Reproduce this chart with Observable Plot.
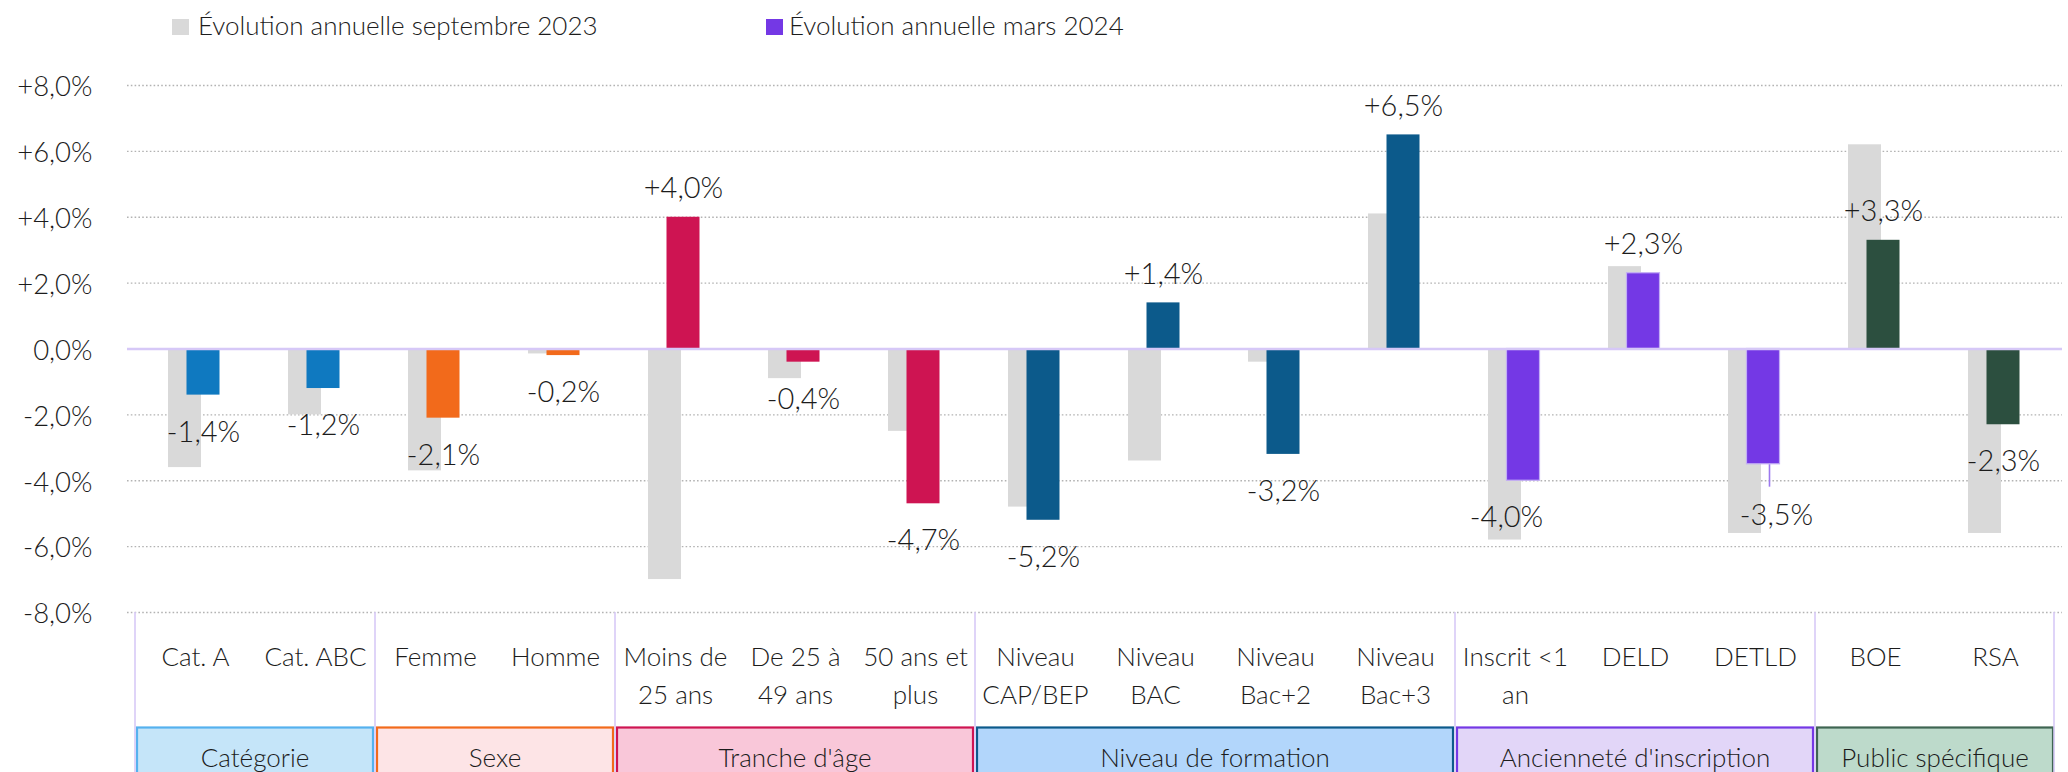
<!DOCTYPE html>
<html>
<head>
<meta charset="utf-8">
<script src="https://cdn.jsdelivr.net/npm/d3@7"></script>
<script src="https://cdn.jsdelivr.net/npm/@observablehq/plot@0.6"></script>
<style>
  html, body { margin: 0; padding: 0; background: #fff; }
  body { font-family: Lato, "Open Sans", sans-serif; font-weight: 300; color: #1c1c1c; width: 2068px; overflow: hidden; }
  #legend { position: relative; height: 60px; width: 2068px; }
  #legend .sw { position: absolute; top: 19px; width: 17px; height: 16px; }
  #legend .lt { position: absolute; top: 10px; line-height: 30px; font-size: 26px; white-space: nowrap; }
  #chart svg { display: block; }
</style>
</head>
<body>
<div id="legend"></div>
<div id="chart"></div>
<script>
// ---------- data ----------
const categories = ["Cat. A", "Cat. ABC", "Femme", "Homme", "Moins de 25 ans", "De 25 à 49 ans", "50 ans et plus",
  "Niveau CAP/BEP", "Niveau BAC", "Niveau Bac+2", "Niveau Bac+3", "Inscrit <1 an", "DELD", "DETLD", "BOE", "RSA"];
const categoryLabels = ["Cat. A", "Cat. ABC", "Femme", "Homme", "Moins de\n25 ans", "De 25 à\n49 ans", "50 ans et\nplus",
  "Niveau\nCAP/BEP", "Niveau\nBAC", "Niveau\nBac+2", "Niveau\nBac+3", "Inscrit <1\nan", "DELD", "DETLD", "BOE", "RSA"];
const groupNames = ["Catégorie", "Sexe", "Tranche d'âge", "Niveau de formation", "Ancienneté d'inscription", "Public spécifique"];
const groupOfCategory = ["Catégorie", "Catégorie", "Sexe", "Sexe", "Tranche d'âge", "Tranche d'âge", "Tranche d'âge",
  "Niveau de formation", "Niveau de formation", "Niveau de formation", "Niveau de formation",
  "Ancienneté d'inscription", "Ancienneté d'inscription", "Ancienneté d'inscription",
  "Public spécifique", "Public spécifique"];
const seriesNames = ["Évolution annuelle septembre 2023", "Évolution annuelle mars 2024"];
const sept2023 = [-3.6, -2.0, -3.7, -0.15, -7.0, -0.9, -2.5, -4.8, -3.4, -0.4, 4.1, -5.8, 2.5, -5.6, 6.2, -5.6];
const mars2024 = [-1.4, -1.2, -2.1, -0.2, 4.0, -0.4, -4.7, -5.2, 1.4, -3.2, 6.5, -4.0, 2.3, -3.5, 3.3, -2.3];
const yTicks = [-8, -6, -4, -2, 0, 2, 4, 6, 8];

// ---------- styles ----------
const barColors = ["#0f79c0", "#f26a1b", "#ce1452", "#0c5a8b", "#7438e5", "#2c4f3f"];
const boxFills = ["#c5e5f9", "#fde4e6", "#f9c7d9", "#b2d6fb", "#e2d6f8", "#bddacb"];
const boxStrokes = ["#55b1ee", "#f26a1b", "#ce1452", "#0c5a8b", "#7438e5", "#3f6552"];
const greySeries = "#d9d9d9";
const textColor = "#1c1c1c";
const FONT = "Lato, 'Open Sans', sans-serif";

// ---------- legend ----------
const legend = document.getElementById("legend");
const legendItems = [
  {name: seriesNames[0], color: greySeries, sw: 172, tx: 198},
  {name: seriesNames[1], color: barColors[4], sw: 766, tx: 789}
];
for (const it of legendItems) {
  const s = document.createElement("span");
  s.className = "sw"; s.style.left = it.sw + "px"; s.style.background = it.color;
  const t = document.createElement("span");
  t.className = "lt"; t.style.left = it.tx + "px"; t.textContent = it.name;
  legend.append(s, t);
}

// ---------- table ----------
const data = categories.map((c, i) => ({
  cat: c, label: categoryLabels[i], group: groupOfCategory[i], sept: sept2023[i], mars: mars2024[i]
}));
const fmt = v => (v > 0 ? "+" : v < 0 ? "-" : "") + Math.abs(v).toFixed(1).replace(".", ",") + "%";
const special = new Set(["Inscrit <1 an", "DETLD"]);

// group frame: separators, boxes and group labels, positioned with the plot's scales
function groupFrame(index, scales, values, dimensions) {
  const x = scales.x, y = scales.y;
  const bw = x.bandwidth ? x.bandwidth() : 0;
  const yBase = y(-8);
  const H = dimensions.height;
  const g = d3.create("svg:g");
  const seps = [];
  groupNames.forEach((name, gi) => {
    const members = categories.filter((c, i) => groupOfCategory[i] === name);
    const x0 = x(members[0]);
    const x1 = x(members[members.length - 1]) + bw;
    seps.push(x0);
    if (gi === groupNames.length - 1) seps.push(x1 - 1);
    g.append("rect")
      .attr("x", x0 + 2).attr("y", yBase + 115.5)
      .attr("width", x1 - x0 - 4).attr("height", 60)
      .attr("fill", boxFills[gi]).attr("stroke", boxStrokes[gi]).attr("stroke-width", 2.2);
    g.append("text")
      .attr("x", (x0 + x1) / 2).attr("y", yBase + 154.5)
      .attr("text-anchor", "middle").attr("fill", textColor)
      .attr("font-size", 26).attr("font-family", FONT).attr("font-weight", 300)
      .text(name);
  });
  for (const sx of seps) {
    g.append("line").attr("x1", sx).attr("x2", sx).attr("y1", yBase).attr("y2", H)
      .attr("stroke", "#d7caf7").attr("stroke-width", 1.6);
  }
  return g.node();
}

const plot = Plot.plot({
  width: 2068,
  height: 712,
  marginTop: 25,
  marginBottom: 160,
  marginLeft: 127,
  marginRight: 6,
  style: {fontFamily: FONT, fontSize: "26px", fontWeight: 300, color: textColor, background: "white", overflow: "hidden"},
  x: {domain: categories, padding: 0, axis: null},
  y: {domain: [-8, 8], axis: null},
  color: {domain: groupNames, range: barColors},
  marks: [
    Plot.ruleY(yTicks.filter(d => d !== 0), {stroke: "#b3b3b3", strokeWidth: 1.4, strokeDasharray: "1.6,2.2"}),
    Plot.axisY(yTicks, {tickSize: 0, tickPadding: 35, tickFormat: d => d === 0 ? "0,0%" : fmt(d), fontSize: 27.5, fill: textColor, dy: 2}),
    Plot.barY(data, {x: "cat", y: "sept", fill: greySeries, insetLeft: 33, insetRight: 54}),
    Plot.barY(data, {x: "cat", y: "mars", fill: "group", insetLeft: 51.5, insetRight: 35.5}),
    Plot.barY(data.filter(d => d.group === "Ancienneté d'inscription"), {x: "cat", y: "mars", fill: "none", stroke: "#c3aef5", strokeWidth: 1.2, insetLeft: 51.5, insetRight: 35.5}),
    Plot.ruleY([0], {stroke: "#d6c8f7", strokeWidth: 2.6}),
    // value labels (mars 2024)
    Plot.text(data.filter(d => d.mars > 0), {x: "cat", y: "mars", text: d => fmt(d.mars), dx: 8, dy: -19, lineAnchor: "bottom", fontSize: 29, fill: textColor}),
    Plot.text(data.filter(d => d.mars < 0 && !special.has(d.cat)), {x: "cat", y: "mars", text: d => fmt(d.mars), dx: 8, dy: 26, lineAnchor: "top", fontSize: 29, fill: textColor}),
    Plot.text(data.filter(d => d.cat === "Inscrit <1 an"), {x: "cat", y: "mars", text: d => fmt(d.mars), dx: -9, dy: 26, lineAnchor: "top", fontSize: 29, fill: textColor}),
    Plot.text(data.filter(d => d.cat === "DETLD"), {x: "cat", y: "mars", text: d => fmt(d.mars), dx: 21, dy: 40, lineAnchor: "top", fontSize: 29, fill: textColor}),
    Plot.link(data.filter(d => d.cat === "DETLD"), {x1: "cat", x2: "cat", y1: "mars", y2: d => d.mars - 0.68, dx: 14, stroke: "#9c78ef", strokeWidth: 1.6}),
    // category labels
    Plot.text(data, {x: "cat", text: "label", frameAnchor: "bottom", lineAnchor: "top", dy: 27, lineHeight: 1.45, fontSize: 26, fill: textColor}),
    groupFrame
  ]
});
document.getElementById("chart").append(plot);
</script>
</body>
</html>
